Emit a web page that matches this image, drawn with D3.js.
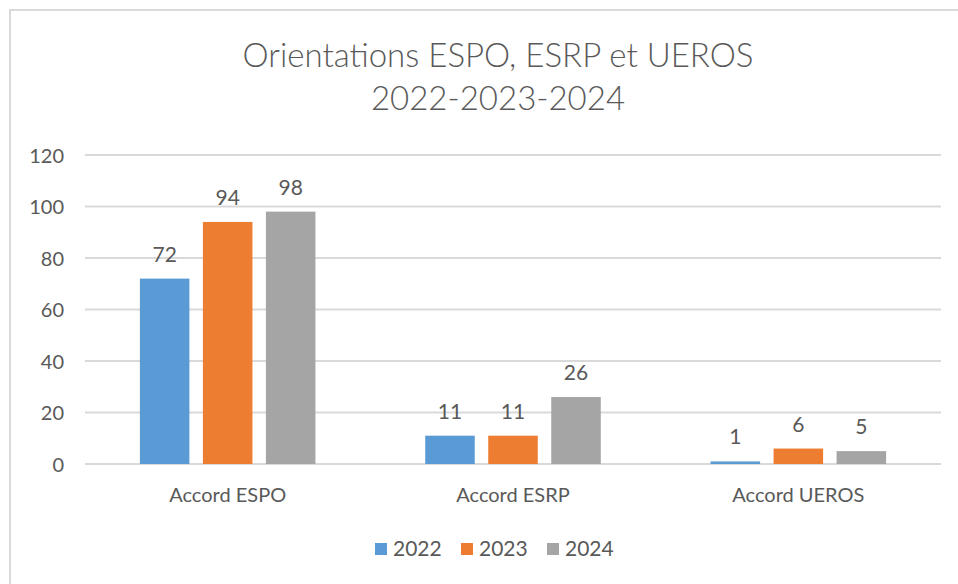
<!DOCTYPE html>
<html><head><meta charset="utf-8">
<script src="https://cdn.jsdelivr.net/npm/d3@7"></script>
<style>body{margin:0;background:#fff}svg{display:block}text{font-family:Lato,"Open Sans",sans-serif;fill:#595959}</style>
</head><body><svg id="c" width="958" height="584"></svg>
<script>
const categories = ["Accord ESPO", "Accord ESRP", "Accord UEROS"];
const years = ["2022", "2023", "2024"];
const values2022 = [72, 11, 1];
const values2023 = [94, 11, 6];
const values2024 = [98, 26, 5];
const yTicks = [0, 20, 40, 60, 80, 100, 120];
const colors = ["#5b9bd5", "#ed7d31", "#a5a5a5"];
const series = [values2022, values2023, values2024];

(function () {
const svg = d3.select("#c");
svg.append("rect").attr("x", 10).attr("y", 10).attr("width", 960).attr("height", 600)
  .attr("fill", "none").attr("stroke", "#d9d9d9").attr("stroke-width", 2);

const pLeft = 85, pRight = 941, pTop = 155, pBottom = 464;
const x = d3.scaleBand().domain(categories).range([pLeft, pRight]).padding(0);
const xi = d3.scaleBand().domain(years).range([0, x.bandwidth()]).paddingInner(0.214).paddingOuter(0.871);
const y = d3.scaleLinear().domain([0, 120]).range([pBottom, pTop]);

svg.append("g").selectAll("line").data(yTicks).join("line")
  .attr("x1", pLeft).attr("x2", pRight).attr("y1", d => y(d)).attr("y2", d => y(d))
  .attr("stroke", "#d9d9d9").attr("stroke-width", 2);

const yAxis = d3.axisLeft(y).tickValues(yTicks).tickSize(0).tickPadding(0);
const gy = svg.append("g").attr("transform", `translate(64,0)`).call(yAxis);
gy.select(".domain").remove();
gy.selectAll("text").attr("font-size", 20).attr("dy", "0.36em").style("fill", "#595959");

const xAxis = d3.axisBottom(x).tickSize(0).tickPadding(0);
const gx = svg.append("g").attr("transform", `translate(0,${pBottom + 22})`).call(xAxis);
gx.select(".domain").remove();
gx.selectAll("text").attr("font-size", 20).attr("dy", "0.8em").style("fill", "#595959");

series.forEach((vals, si) => {
  const g = svg.append("g");
  g.selectAll("rect").data(vals).join("rect")
    .attr("x", (d, i) => x(categories[i]) + xi(years[si]))
    .attr("y", d => y(d)).attr("width", xi.bandwidth())
    .attr("height", d => pBottom - y(d)).attr("fill", colors[si]);
  g.selectAll("text").data(vals).join("text")
    .attr("x", (d, i) => x(categories[i]) + xi(years[si]) + xi.bandwidth() / 2)
    .attr("y", d => y(d) - 17).attr("text-anchor", "middle").attr("font-size", 21)
    .text(d => d);
});

svg.append("text").attr("x", 498).attr("y", 67).attr("text-anchor", "middle").attr("font-size", 33)
  .attr("font-weight", 300).text("Orientations ESPO, ESRP et UEROS");
svg.append("text").attr("x", 498).attr("y", 110).attr("text-anchor", "middle").attr("font-size", 33)
  .attr("font-weight", 300).text("2022-2023-2024");

const legendX = [375, 461, 547];
const lg = svg.append("g");
years.forEach((yr, i) => {
  lg.append("rect").attr("x", legendX[i]).attr("y", 543).attr("width", 12).attr("height", 12).attr("fill", colors[i]);
  lg.append("text").attr("x", legendX[i] + 18).attr("y", 556).attr("font-size", 21).text(yr);
});
})();
</script></body></html>
